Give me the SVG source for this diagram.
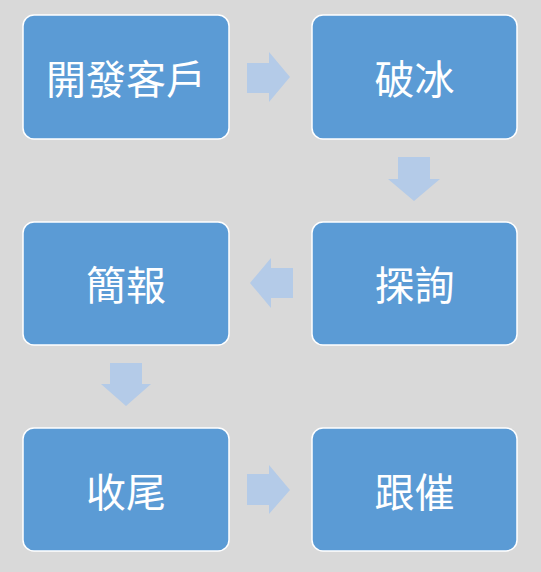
<svg xmlns="http://www.w3.org/2000/svg" width="541" height="572" viewBox="0 0 541 572">
<style>
.box{fill:#5b9bd5;stroke:#ffffff;stroke-width:1.5}
.lbl{font-family:"Noto Sans CJK TC","Noto Sans CJK SC",sans-serif;font-size:40px;fill:#ffffff;text-anchor:middle;dominant-baseline:central}
.arr{fill:#b4cbe8}
</style>
<rect width="541" height="572" fill="#d9d9d9"/>
<g id="connectors">
<polygon class="arr" points="247,63 269,63 269,52 290,77 269,102 269,93 247,93"/>
<polygon class="arr" points="398,157 430,157 430,179 440,179 414,201 388,179 398,179"/>
<polygon class="arr" points="293,268 271,268 271,258 250,283 271,308 271,298 293,298"/>
<polygon class="arr" points="110,363 142,363 142,384 151,384 126,406 101,384 110,384"/>
<polygon class="arr" points="247,474 269,474 269,465 290,490 269,514 269,505 247,505"/>
</g>
<g id="n1"><rect class="box" x="23" y="15" width="206" height="124" rx="11"/><text class="lbl" x="126" y="77">開發客戶</text></g>
<g id="n2"><rect class="box" x="312" y="15" width="205" height="124" rx="11"/><text class="lbl" x="414.5" y="77">破冰</text></g>
<g id="n3"><rect class="box" x="312" y="222" width="205" height="123" rx="11"/><text class="lbl" x="414.5" y="283">探詢</text></g>
<g id="n4"><rect class="box" x="23" y="222" width="206" height="123" rx="11"/><text class="lbl" x="126" y="283">簡報</text></g>
<g id="n5"><rect class="box" x="23" y="428" width="206" height="123" rx="11"/><text class="lbl" x="126" y="490">收尾</text></g>
<g id="n6"><rect class="box" x="312" y="428" width="205" height="123" rx="11"/><text class="lbl" x="414.5" y="490">跟催</text></g>
</svg>
